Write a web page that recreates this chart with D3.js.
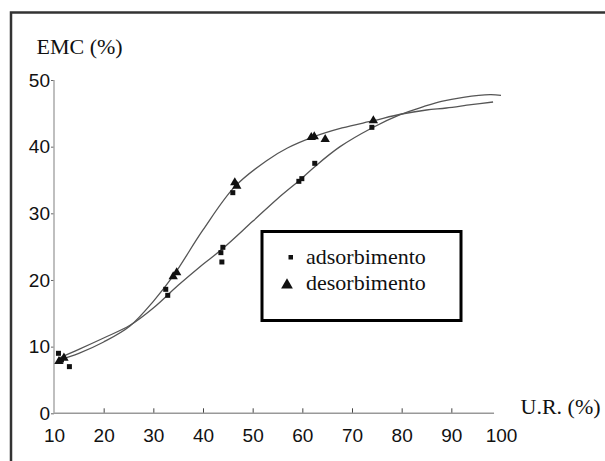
<!DOCTYPE html>
<html>
<head>
<meta charset="utf-8">
<script src="https://cdn.jsdelivr.net/npm/d3@7/dist/d3.min.js"></script>
<style>
  body { margin: 0; background: #fff; }
  svg { display: block; }
</style>
</head>
<body>
<div id="chart"></div>
<script>
// tick values
var xTicks = [10, 20, 30, 40, 50, 60, 70, 80, 90, 100];
var yTicks = [0, 10, 20, 30, 40, 50];

// measured points, adsorption (small dots) and desorption (triangles)
var adsX = [10.9, 11.5, 13.1, 32.5, 32.9, 43.6, 43.8, 44.0, 46.0, 59.3, 59.9, 62.5, 74.0];
var adsY = [9.0, 8.0, 7.0, 18.6, 17.7, 24.1, 22.7, 24.9, 33.1, 34.8, 35.2, 37.5, 42.9];
var desX = [11.0, 12.0, 34.0, 34.7, 46.4, 46.8, 61.8, 62.4, 64.6, 74.3];
var desY = [7.8, 8.3, 20.5, 21.1, 34.6, 34.1, 41.4, 41.5, 41.1, 43.9];

// fitted curves
var adsCurveX = [11, 15, 20, 25.3, 30, 35, 39.4, 43.8, 50, 55, 59.5, 62.5, 67.6, 74, 79.7, 84.4, 88, 92.4, 97.8, 100];
var adsCurveY = [8.3, 9.6, 11.3, 13.2, 15.8, 19.2, 22.0, 24.6, 28.8, 32.2, 35.0, 37.0, 40.0, 42.8, 44.8, 46.0, 46.8, 47.4, 47.8, 47.7];
var desCurveX = [11, 15, 20, 25.3, 30, 34, 40, 46.4, 52.8, 57, 62, 68, 74.3, 80, 85, 89, 94, 98.4];
var desCurveY = [8.0, 9.0, 10.7, 13.1, 16.8, 20.6, 27.5, 34.0, 37.9, 39.8, 41.4, 42.8, 43.9, 44.9, 45.5, 45.8, 46.3, 46.7];

var legendLabels = ["adsorbimento", "desorbimento"];

var width = 605, height = 461;

var svg = d3.select("#chart").append("svg")
    .attr("width", width)
    .attr("height", height);

// outer frame (runs off the right and bottom)
svg.append("path")
    .attr("d", "M11,470 L11,12.5 L620,12.5")
    .attr("fill", "none")
    .attr("stroke", "#333")
    .attr("stroke-width", 2.5);

var x = d3.scaleLinear().domain([10, 100]).range([54, 501]);
var y = d3.scaleLinear().domain([0, 50]).range([413.3, 80]);

// x axis
var gx = svg.append("g")
    .attr("transform", "translate(0," + y(0) + ")")
    .call(d3.axisBottom(x).tickValues(xTicks).tickSizeInner(-5).tickSizeOuter(0).tickPadding(15));
gx.select(".domain").remove();
gx.selectAll(".tick line")
    .attr("stroke", "#444")
    .filter(function(d) { return d === 10 || d === 100; }).remove();
gx.selectAll(".tick text")
    .attr("fill", "#111")
    .style("font-family", "'Liberation Sans', Arial, sans-serif")
    .style("font-size", "19px");
svg.append("line")
    .attr("x1", x(10)).attr("x2", x(98.6))
    .attr("y1", y(0)).attr("y2", y(0))
    .attr("stroke", "#999")
    .attr("stroke-width", 1.5);

// y axis
var gy = svg.append("g")
    .attr("transform", "translate(" + x(10) + ",0)")
    .call(d3.axisLeft(y).tickValues(yTicks).tickSizeInner(3).tickSizeOuter(0).tickPadding(1));
gy.select(".domain").remove();
gy.selectAll(".tick line").attr("stroke", "#666");
gy.selectAll(".tick text")
    .attr("fill", "#111")
    .style("font-family", "'Liberation Sans', Arial, sans-serif")
    .style("font-size", "19px");
svg.append("line")
    .attr("x1", x(10)).attr("x2", x(10))
    .attr("y1", y(0)).attr("y2", y(50))
    .attr("stroke", "#aaa")
    .attr("stroke-width", 1.5);

// axis titles
svg.append("text")
    .attr("x", 36.5).attr("y", 53.5)
    .style("font-family", "'Liberation Serif', 'Times New Roman', serif")
    .style("font-size", "22px")
    .attr("fill", "#111")
    .text("EMC (%)");
svg.append("text")
    .attr("x", 520.5).attr("y", 414)
    .style("font-family", "'Liberation Serif', 'Times New Roman', serif")
    .style("font-size", "22px")
    .attr("fill", "#111")
    .text("U.R. (%)");

// curves
var line = d3.line()
    .x(function(d) { return x(d[0]); })
    .y(function(d) { return y(d[1]); })
    .curve(d3.curveCatmullRom.alpha(0.5));

var adsCurve = d3.zip(adsCurveX, adsCurveY);
var desCurve = d3.zip(desCurveX, desCurveY);

[adsCurve, desCurve].forEach(function(c) {
  svg.append("path")
      .datum(c)
      .attr("d", line)
      .attr("fill", "none")
      .attr("stroke", "#555")
      .attr("stroke-width", 1.3);
});

// markers
var triangle = d3.symbol().type(d3.symbolTriangle).size(38);

svg.append("g").selectAll("path")
    .data(d3.zip(desX, desY))
    .join("path")
      .attr("d", triangle)
      .attr("transform", function(d) { return "translate(" + x(d[0]) + "," + y(d[1]) + ")"; })
      .attr("fill", "#111");

svg.append("g").selectAll("rect")
    .data(d3.zip(adsX, adsY))
    .join("rect")
      .attr("x", function(d) { return x(d[0]) - 2.5; })
      .attr("y", function(d) { return y(d[1]) - 2.5; })
      .attr("width", 5)
      .attr("height", 5)
      .attr("fill", "#111");

// legend
var legend = svg.append("g");
legend.append("rect")
    .attr("x", 262).attr("y", 231.5)
    .attr("width", 199).attr("height", 89)
    .attr("fill", "#fff")
    .attr("stroke", "#000")
    .attr("stroke-width", 3);
legend.append("rect")
    .attr("x", 288.5).attr("y", 255)
    .attr("width", 4.5).attr("height", 4.5)
    .attr("fill", "#111");
legend.append("path")
    .attr("d", d3.symbol().type(d3.symbolTriangle).size(60))
    .attr("transform", "translate(287,285)")
    .attr("fill", "#111");
legend.selectAll("text")
    .data(legendLabels)
    .join("text")
      .attr("x", 306)
      .attr("y", function(d, i) { return 264 + i * 26; })
      .style("font-family", "'Liberation Serif', 'Times New Roman', serif")
      .style("font-size", "22px")
      .attr("fill", "#111")
      .text(function(d) { return d; });
</script>
</body>
</html>
